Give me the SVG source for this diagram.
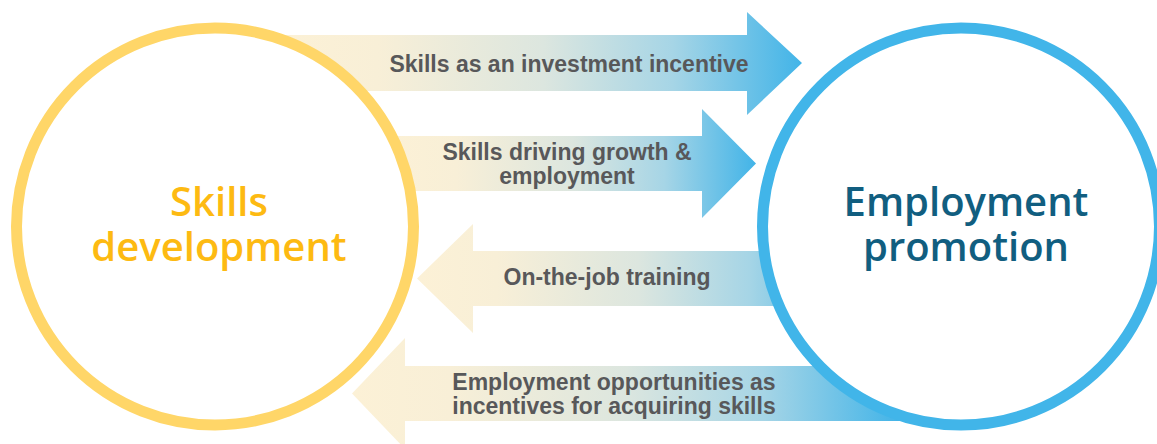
<svg xmlns="http://www.w3.org/2000/svg" width="1157" height="444" viewBox="0 0 1157 444">
  <style>
    .lbl { font-family: "Liberation Sans", Arial, sans-serif; font-weight: 700; font-size: 23px; fill: #58585A; text-anchor: middle; }
    .title { font-family: "Open Sans", "DejaVu Sans", sans-serif; font-weight: 600; font-size: 40px; text-anchor: middle; }
    .arrow { fill: url(#flow); }
  </style>
  <defs>
    <!-- cream on the skills side, blue on the employment side -->
    <linearGradient id="flow" x1="0" y1="0" x2="1" y2="0">
      <stop offset="0" stop-color="#FCF1D6"/>
      <stop offset="0.18" stop-color="#F8EFD7"/>
      <stop offset="0.5" stop-color="#DCE6DF"/>
      <stop offset="0.75" stop-color="#A6D5E6"/>
      <stop offset="1" stop-color="#42B4E8"/>
    </linearGradient>
  </defs>

  <g id="connectors">
    <!-- skills -> employment -->
    <g id="arrow-investment">
      <polygon class="arrow" points="285,35 747,35 747,12 802,63 747,115 747,91 285,91"/>
      <text class="lbl" x="569" y="72">Skills as an investment incentive</text>
    </g>
    <g id="arrow-growth">
      <polygon class="arrow" points="390,136 702,136 702,109 756,163.5 702,218 702,191 390,191"/>
      <text class="lbl" x="567" y="160">Skills driving growth &amp;</text>
      <text class="lbl" x="567" y="184">employment</text>
    </g>
    <!-- employment -> skills -->
    <g id="arrow-training">
      <polygon class="arrow" points="860,251 473,251 473,224 417,278.5 473,333 473,306 860,306"/>
      <text class="lbl" x="607" y="285">On-the-job training</text>
    </g>
    <g id="arrow-opportunities">
      <polygon class="arrow" points="900,366 405,366 405,338 352,393.5 405,449 405,421 900,421"/>
      <text class="lbl" x="614" y="390">Employment opportunities as</text>
      <text class="lbl" x="614" y="414">incentives for acquiring skills</text>
    </g>
  </g>

  <g id="skills-development">
    <circle cx="215" cy="226.5" r="198.5" fill="#FFFFFF" stroke="#FFD668" stroke-width="11"/>
    <text class="title" x="219" y="216" fill="#FDBA12">Skills</text>
    <text class="title" x="219" y="261" fill="#FDBA12">development</text>
  </g>

  <g id="employment-promotion">
    <circle cx="961" cy="226.5" r="198.5" fill="#FFFFFF" stroke="#41B5E9" stroke-width="11"/>
    <text class="title" x="966" y="216" fill="#115E80">Employment</text>
    <text class="title" x="966" y="261" fill="#115E80">promotion</text>
  </g>
</svg>
